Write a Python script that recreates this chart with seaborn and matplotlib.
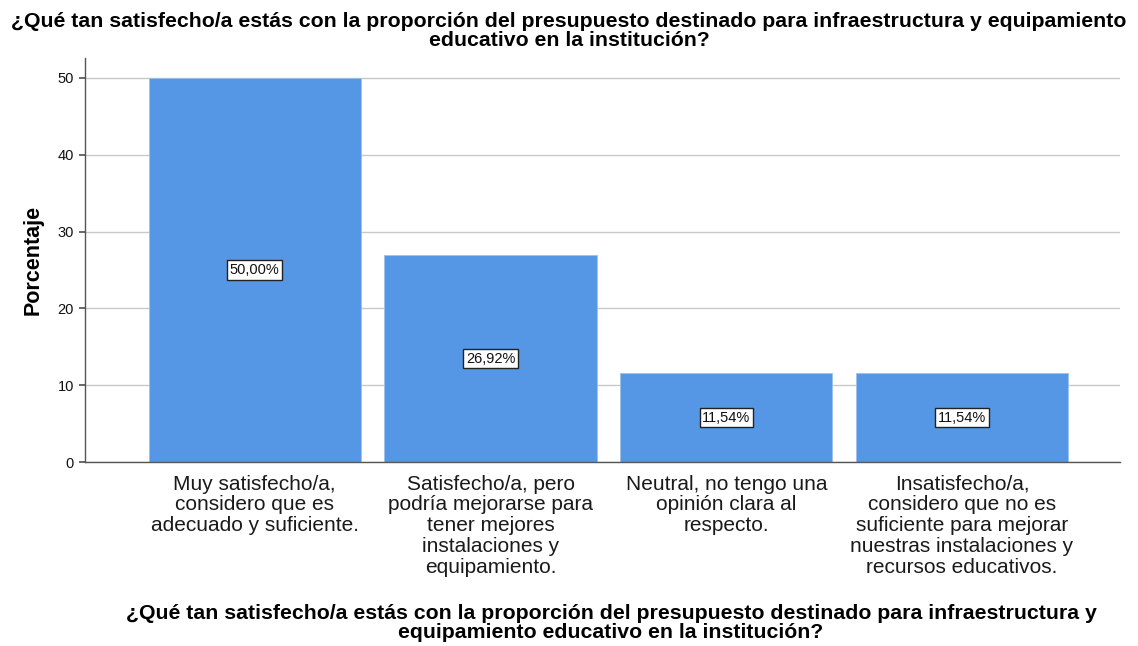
import pandas as pd
import matplotlib
matplotlib.use('Agg')
import matplotlib.pyplot as plt
import seaborn as sns

# === DATA ===
CATEGORIAS = [
    'Muy satisfecho/a,\nconsidero que es\nadecuado y suficiente.',
    'Satisfecho/a, pero\npodría mejorarse para\ntener mejores\ninstalaciones y\nequipamiento.',
    'Neutral, no tengo una\nopinión clara al\nrespecto.',
    'Insatisfecho/a,\nconsidero que no es\nsuficiente para mejorar\nnuestras instalaciones y\nrecursos educativos.',
]
PORCENTAJES = [50.00, 26.92, 11.54, 11.54]
Y_TICKS = [0, 10, 20, 30, 40, 50]
TITULO = ('¿Qué tan satisfecho/a estás con la proporción del presupuesto destinado para infraestructura y equipamiento\n'
          'educativo en la institución?')
TITULO_X = ('¿Qué tan satisfecho/a estás con la proporción del presupuesto destinado para infraestructura y\n'
            'equipamiento educativo en la institución?')

df = pd.DataFrame({'categoria': CATEGORIAS, 'porcentaje': PORCENTAJES})

sns.set_theme(style='white')
plt.rcParams['font.family'] = ['Liberation Sans', 'DejaVu Sans']

fig = plt.figure(figsize=(11.38, 6.46), dpi=100)
ax = fig.add_axes([85 / 1138, 1 - 462 / 646, (1120 - 85) / 1138, (462 - 58) / 646])

sns.barplot(data=df, x='categoria', y='porcentaje', color='#5596E5', width=0.9,
            edgecolor='#9cc0ee', linewidth=0.6, saturation=1, ax=ax, zorder=2)

# grid and axes
ax.set_ylim(0, 52.6)
ax.set_xlim(-0.72, 3.67)
ax.set_yticks(Y_TICKS)
ax.yaxis.grid(True, color='#c8c8c8', linewidth=1, zorder=0)
ax.set_axisbelow(True)
for s in ['top', 'right']:
    ax.spines[s].set_visible(False)
for s in ['left', 'bottom']:
    ax.spines[s].set_color('#555555')
    ax.spines[s].set_linewidth(1)
ax.tick_params(axis='y', left=True, length=4, color='#555555', labelsize=10.5, pad=4, labelcolor='#111111')
ax.tick_params(axis='x', bottom=False, labelsize=15, pad=3, labelcolor='#1a1a1a')
for lbl in ax.get_xticklabels():
    lbl.set_linespacing(1.13)

# labels inside bars
for i, v in enumerate(PORCENTAJES):
    ax.text(i, v / 2, f'{v:.2f}%'.replace('.', ','), ha='center', va='center', fontsize=10.5,
            color='#111111',
            bbox=dict(boxstyle='square,pad=0.18', facecolor='white', edgecolor='#222222', linewidth=1),
            zorder=5)

ax.set_ylabel('Porcentaje', fontsize=15.5, fontweight='bold', labelpad=10, color='black')
ax.set_xlabel('')
fig.text(0.5, 1 - 31 / 646, TITULO, ha='center', va='center', fontsize=15.3, fontweight='bold',
         linespacing=0.95, color='black')
fig.text(611 / 1138, 1 - 623 / 646, TITULO_X, ha='center', va='center', fontsize=15.3, fontweight='bold',
         linespacing=0.95, color='black')

plt.savefig('out.png', dpi=100)
